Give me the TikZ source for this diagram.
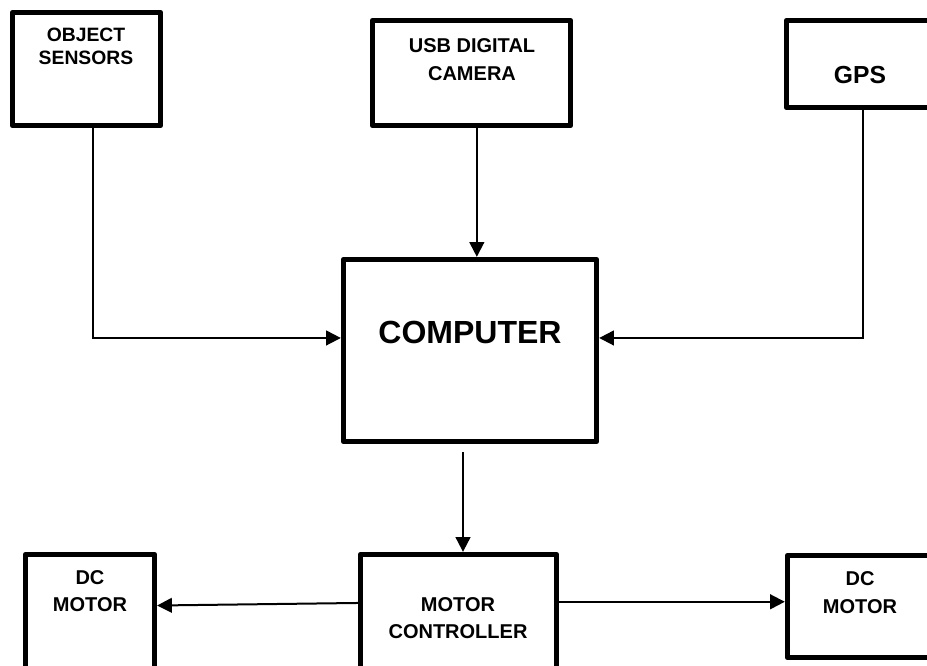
\documentclass[tikz,border=0pt]{standalone}
\usepackage{fontspec}
\setmainfont{Liberation Sans}
\usepackage{tikz}
\usetikzlibrary{arrows.meta,positioning}

\begin{document}
\begin{tikzpicture}[
      x=0.75pt,y=-0.75pt,
      >={Triangle[length=11pt,width=11pt]},
      box/.style={draw,line width=4pt,line join=round,rectangle,inner sep=0pt},
      lbl/.style={font=\fontsize{15}{20.5}\selectfont\bfseries,align=center,inner sep=0pt},
      arr/.style={->,line width=1.5pt}
    ]
    \useasboundingbox (0,0) rectangle (927,665);
    \clip (0,0) rectangle (927,665);
    % blocks
    \node[box,minimum width=111pt,minimum height=84.75pt] (sensors) at (86.5,69) {};
    \node[box,minimum width=148.5pt,minimum height=78.75pt] (camera) at (471.5,73) {};
    \node[box,minimum width=110.25pt,minimum height=65.25pt] (gps) at (860,64) {};
    \node[box,minimum width=189.75pt,minimum height=136.5pt] (computer) at (470,350.5) {};
    \node[box,minimum width=147pt,minimum height=97.5pt] (motorctl) at (458.5,619.5) {};
    \node[box,minimum width=96.75pt,minimum height=97.5pt] (motorl) at (90,619.5) {};
    \node[box,minimum width=108.75pt,minimum height=76.5pt] (motorr) at (860,606.5) {};
    % texts
    \node[lbl,font=\fontsize{14.5}{17}\selectfont\bfseries] (sensorstxt) at (86,46.5) {OBJECT\\SENSORS};
    \node[lbl] (cameratxt) at (472,59.5) {USB DIGITAL\\CAMERA};
    \node[lbl,font=\fontsize{18.5}{22}\selectfont\bfseries] (gpstxt) at (860,75) {GPS};
    \node[lbl,font=\fontsize{24}{28}\selectfont\bfseries] (computertxt) at (470,332) {COMPUTER};
    \node[lbl] (motorctltxt) at (458,618) {MOTOR\\CONTROLLER};
    \node[lbl] (motorltxt) at (90,591) {DC\\MOTOR};
    \node[lbl] (motorrtxt) at (860,592.5) {DC\\MOTOR};
    % connectors
    \draw[arr] ([xshift=4pt]camera.south) -- ([xshift=4pt]camera.south |- computer.north);
    \draw[arr] ([xshift=5pt]sensors.south) |- ([yshift=9.4pt]computer.west);
    \draw[arr] ([xshift=2.25pt]gps.south) |- ([yshift=9.4pt]computer.east);
    \draw[arr] ([xshift=-5.25pt,yshift=-6pt]computer.south) -- ([xshift=-5.25pt]computer.south |- motorctl.north);
    \draw[arr] ([yshift=12.4pt]motorctl.west) -- ([yshift=10.5pt]motorl.east);
    \draw[arr] ([yshift=13.3pt]motorctl.east) -- ([yshift=13.3pt]motorctl.east -| motorr.west);
\end{tikzpicture}
\end{document}
